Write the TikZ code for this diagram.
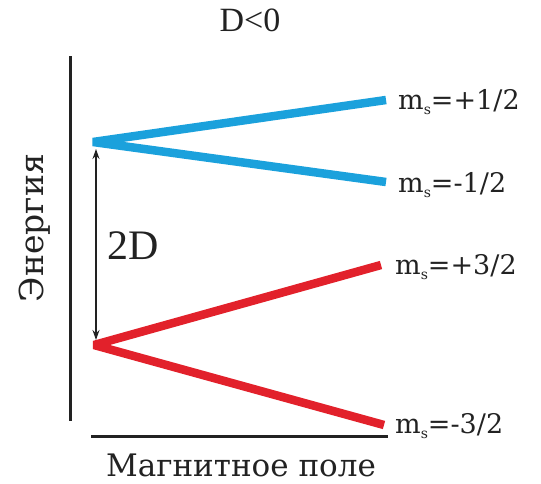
\documentclass[tikz,border=0pt]{standalone}
\usepackage{fontspec}
\setmainfont{DejaVu Serif}
\newfontfamily\timesf{Liberation Serif}
\usetikzlibrary{arrows.meta}
\definecolor{lblue}{HTML}{1BA1DC}
\definecolor{lred}{HTML}{E2212B}
\definecolor{axisc}{HTML}{222222}
\tikzset{
  level/.style={line width=8.5pt, line join=bevel},
  axisline/.style={line width=3pt, draw=axisc},
  lbl/.style={anchor=west, inner sep=0pt, text=axisc, font=\fontsize{27}{29}\selectfont},
}
\newcommand{\msub}{m\raisebox{-0.35ex}{\fontsize{14}{14}\selectfont s}}
\begin{document}
\begin{tikzpicture}[x=1pt,y=-1pt]
\useasboundingbox (0,0) rectangle (541,483);
% axes
\coordinate (ytop) at (70,56);
\coordinate (ybot) at (70,421);
\coordinate (xl) at (91,436);
\coordinate (xr) at (388,436);
\draw[axisline] (ytop) -- (ybot);
\draw[axisline] (xl) -- (xr);
% levels
\coordinate (bstart) at (93,142);
\coordinate (bup) at (386,100);
\coordinate (bdn) at (386,182);
\coordinate (rstart) at (94,345);
\coordinate (rup) at (381,265);
\coordinate (rdn) at (384,425);
\draw[level, draw=lblue] (bup) -- (bstart) -- (bdn);
\draw[level, draw=lred] (rup) -- (rstart) -- (rdn);
% 2D arrow
\coordinate (at) at (96,149);
\coordinate (ab) at (96,340);
\draw[line width=1.3pt, draw=axisc, {Stealth[length=10pt,width=7pt]}-{Stealth[length=10pt,width=7pt]}] (at) -- (ab);
\node[anchor=west, inner sep=0pt, text=axisc, font=\timesf\fontsize{42}{44}\selectfont] (twod) at (107,246) {2D};
% title
\node[inner sep=0pt, text=axisc, font=\timesf\fontsize{34}{36}\selectfont] (title) at (250,20) {D<0};
% labels
\node[lbl] (l1) at (398,102) {\msub=+1/2};
\node[lbl] (l2) at (398,185) {\msub=-1/2};
\node[lbl] (l3) at (395,267) {\msub=+3/2};
\node[lbl] (l4) at (395,426) {\msub=-3/2};
% axis labels
\node[inner sep=0pt, text=axisc, rotate=90, font=\fontsize{33}{36}\selectfont] (ylab) at (35,228) {Энергия};
\node[inner sep=0pt, text=axisc, font=\fontsize{31}{34}\selectfont] (xlab) at (241,465) {Магнитное поле};
\end{tikzpicture}
\end{document}
